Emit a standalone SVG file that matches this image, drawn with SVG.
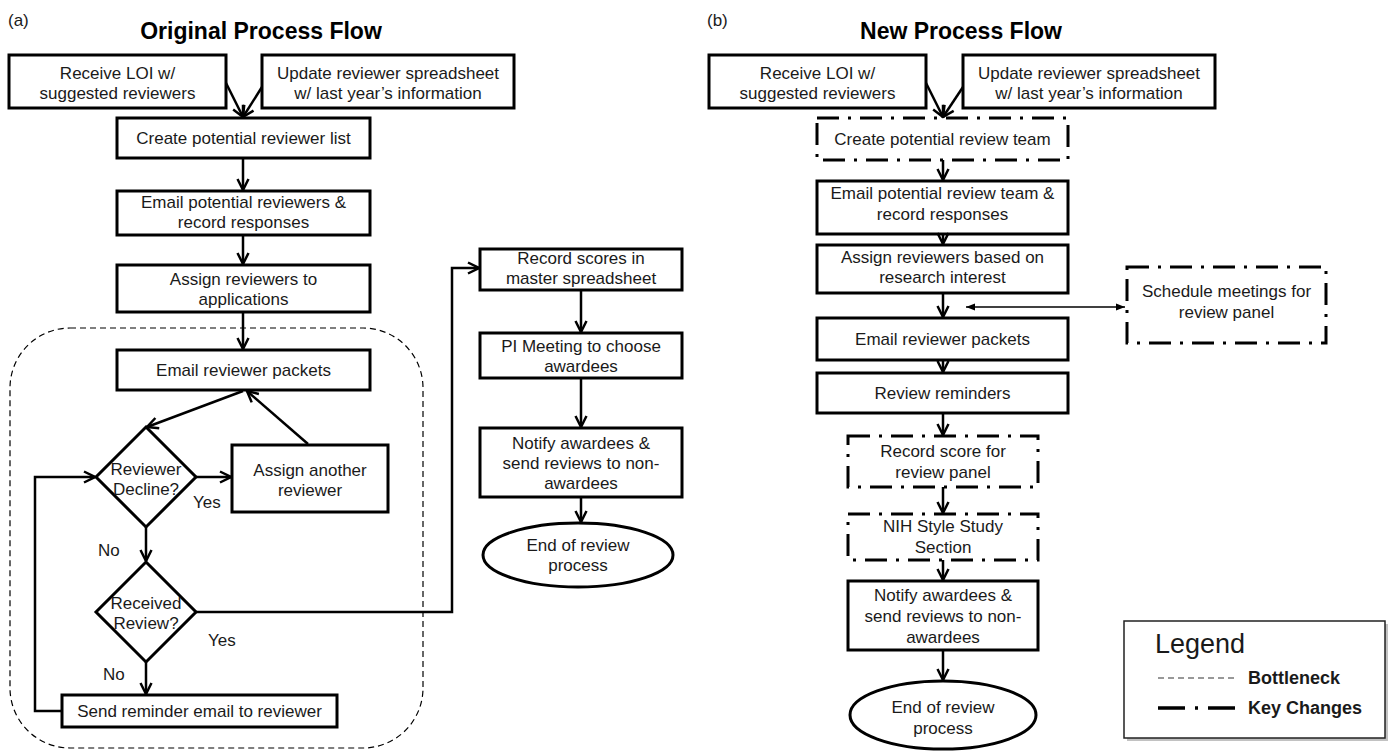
<svg xmlns="http://www.w3.org/2000/svg" width="1394" height="751" viewBox="0 0 1394 751">
<style>
text{font-family:"Liberation Sans",Arial,sans-serif;fill:#1a1a1a;font-size:17px}
.c{text-anchor:middle}
.title{font-size:23px;font-weight:bold;text-anchor:middle;fill:#000}
.box{fill:#fff;stroke:#000;stroke-width:3}
.key{fill:#fff;stroke:#000;stroke-width:3;stroke-dasharray:22 9 3 9}
.ln{fill:none;stroke:#000;stroke-width:2.5}
.arr{fill:none;stroke:#000;stroke-width:2.5;marker-end:url(#ah)}
.bn{fill:none;stroke:#000;stroke-width:1.2;stroke-dasharray:6 4}
</style>
<defs>
<marker id="ah" viewBox="0 0 14 14" refX="12.5" refY="7" markerWidth="14" markerHeight="14" markerUnits="userSpaceOnUse" orient="auto">
<path d="M1.5,1.5 L12.5,7 L1.5,12.5" fill="none" stroke="#000" stroke-width="2.5"/>
</marker>
<marker id="sm" viewBox="0 0 10 10" refX="9" refY="5" markerWidth="10" markerHeight="10" markerUnits="userSpaceOnUse" orient="auto-start-reverse">
<path d="M0,1.5 L9,5 L0,8.5 Z" fill="#000"/>
</marker>
</defs>
<rect width="1394" height="751" fill="#fff"/>

<!-- Panel (a) -->
<text x="8" y="26">(a)</text>
<text class="title" x="261" y="39">Original Process Flow</text>

<g id="bottleneck">
<rect class="bn" x="10" y="328" width="413" height="420" rx="60" ry="60"/>
</g>

<g id="a-receive"><rect class="box" x="9" y="55" width="217" height="53"/>
<text class="c" x="117.5" y="79">Receive LOI w/</text><text class="c" x="117.5" y="99">suggested reviewers</text></g>
<g id="a-update"><rect class="box" x="262" y="55" width="252" height="53"/>
<text class="c" x="388" y="79">Update reviewer spreadsheet</text><text class="c" x="388" y="99">w/ last year’s information</text></g>
<g id="a-create"><rect class="box" x="117" y="118" width="253" height="40"/>
<text class="c" x="243.5" y="144">Create potential reviewer list</text></g>
<g id="a-email"><rect class="box" x="117" y="191" width="253" height="44"/>
<text class="c" x="243.5" y="208">Email potential reviewers &amp;</text><text class="c" x="243.5" y="228">record responses</text></g>
<g id="a-assign"><rect class="box" x="117" y="265" width="253" height="47"/>
<text class="c" x="243.5" y="285">Assign reviewers to</text><text class="c" x="243.5" y="305">applications</text></g>
<g id="a-packets"><rect class="box" x="117" y="350" width="253" height="40"/>
<text class="c" x="243.5" y="376">Email reviewer packets</text></g>
<g id="a-decline"><polygon class="box" points="146,427 196,477 146,527 96,477"/>
<text class="c" x="146" y="475">Reviewer</text><text class="c" x="146" y="495">Decline?</text></g>
<g id="a-another"><rect class="box" x="232" y="445" width="156" height="67"/>
<text class="c" x="310" y="476">Assign another</text><text class="c" x="310" y="496">reviewer</text></g>
<g id="a-received"><polygon class="box" points="146,562 196,612 146,662 96,612"/>
<text class="c" x="146" y="609">Received</text><text class="c" x="146" y="629">Review?</text></g>
<g id="a-reminder"><rect class="box" x="62" y="695" width="275" height="32"/>
<text class="c" x="199.5" y="717">Send reminder email to reviewer</text></g>
<g id="a-record"><rect class="box" x="480" y="249" width="202" height="41"/>
<text class="c" x="581" y="264">Record scores in</text><text class="c" x="581" y="284">master spreadsheet</text></g>
<g id="a-pi"><rect class="box" x="480" y="333" width="202" height="45"/>
<text class="c" x="581" y="352">PI Meeting to choose</text><text class="c" x="581" y="372">awardees</text></g>
<g id="a-notify"><rect class="box" x="480" y="428" width="202" height="69"/>
<text class="c" x="581" y="449">Notify awardees &amp;</text><text class="c" x="581" y="469">send reviews to non-</text><text class="c" x="581" y="489">awardees</text></g>
<g id="a-end"><ellipse class="box" cx="578" cy="555" rx="95" ry="32"/>
<text class="c" x="578" y="551">End of review</text><text class="c" x="578" y="571">process</text></g>

<g id="a-labels">
<text x="193" y="508">Yes</text>
<text x="98" y="556">No</text>
<text x="208" y="646">Yes</text>
<text x="103" y="680">No</text>
</g>

<g id="a-connectors">
<path class="arr" d="M226,83 L243,117"/>
<path class="arr" d="M262,87 L243,117"/>
<path class="arr" d="M243,158 V190"/>
<path class="arr" d="M243,235 V264"/>
<path class="arr" d="M243,312 V349"/>
<path class="arr" d="M243,391 L147,427"/>
<path class="arr" d="M308,444 L247,391"/>
<path class="arr" d="M196,477 H231"/>
<path class="arr" d="M146,527 V561"/>
<path class="arr" d="M146,662 V694"/>
<path class="arr" d="M62,711 H35 V477 H95"/>
<path class="arr" d="M196,612 H452 V268 H479"/>
<path class="arr" d="M581,290 V332"/>
<path class="arr" d="M581,378 V427"/>
<path class="arr" d="M581,497 V522"/>
</g>

<!-- Panel (b) -->
<text x="707" y="26">(b)</text>
<text class="title" x="961" y="39">New Process Flow</text>

<g id="b-receive"><rect class="box" x="709" y="55" width="217" height="53"/>
<text class="c" x="817.5" y="79">Receive LOI w/</text><text class="c" x="817.5" y="99">suggested reviewers</text></g>
<g id="b-update"><rect class="box" x="963" y="55" width="252" height="53"/>
<text class="c" x="1089" y="79">Update reviewer spreadsheet</text><text class="c" x="1089" y="99">w/ last year’s information</text></g>
<g id="b-create"><rect class="key" x="817" y="118" width="251" height="42"/>
<text class="c" x="942.5" y="145">Create potential review team</text></g>
<g id="b-email"><rect class="box" x="817" y="181" width="251" height="53"/>
<text class="c" x="942.5" y="199">Email potential review team &amp;</text><text class="c" x="942.5" y="220">record responses</text></g>
<g id="b-assign"><rect class="box" x="817" y="245" width="251" height="48"/>
<text class="c" x="942.5" y="263">Assign reviewers based on</text><text class="c" x="942.5" y="283">research interest</text></g>
<g id="b-schedule"><rect class="key" x="1127" y="267" width="199" height="76"/>
<text class="c" x="1226.5" y="297">Schedule meetings for</text><text class="c" x="1226.5" y="318">review panel</text></g>
<g id="b-packets"><rect class="box" x="817" y="318" width="251" height="42"/>
<text class="c" x="942.5" y="345">Email reviewer packets</text></g>
<g id="b-reminders"><rect class="box" x="817" y="373" width="251" height="40"/>
<text class="c" x="942.5" y="399">Review reminders</text></g>
<g id="b-recordscore"><rect class="key" x="848" y="436" width="190" height="51"/>
<text class="c" x="943" y="457">Record score for</text><text class="c" x="943" y="478">review panel</text></g>
<g id="b-nih"><rect class="key" x="848" y="514" width="190" height="46"/>
<text class="c" x="943" y="532">NIH Style Study</text><text class="c" x="943" y="553">Section</text></g>
<g id="b-notify"><rect class="box" x="848" y="581" width="190" height="69"/>
<text class="c" x="943" y="601">Notify awardees &amp;</text><text class="c" x="943" y="622">send reviews to non-</text><text class="c" x="943" y="643">awardees</text></g>
<g id="b-end"><ellipse class="box" cx="943" cy="715" rx="93" ry="34"/>
<text class="c" x="943" y="713">End of review</text><text class="c" x="943" y="734">process</text></g>

<g id="b-connectors">
<path class="arr" d="M926,83 L943,117"/>
<path class="arr" d="M963,87 L943,117"/>
<path class="arr" d="M943,160 V180"/>
<path class="arr" d="M943,234 V244"/>
<path class="arr" d="M943,293 V317"/>
<path d="M966,307 H1125" fill="none" stroke="#000" stroke-width="1.6" marker-start="url(#sm)" marker-end="url(#sm)"/>
<path class="arr" d="M943,360 V372"/>
<path class="arr" d="M943,413 V435"/>
<path class="arr" d="M943,487 V513"/>
<path class="arr" d="M943,560 V580"/>
<path class="arr" d="M943,650 V680"/>
</g>

<g id="legend">
<rect x="1127" y="624" width="261" height="117" fill="#9a9a9a" opacity="0.6"/>
<rect x="1124" y="621" width="261" height="117" fill="#fff" stroke="#222" stroke-width="1.5"/>
<text x="1155" y="653" style="font-size:27px">Legend</text>
<line x1="1158" y1="678" x2="1237" y2="678" stroke="#333" stroke-width="1.2" stroke-dasharray="6 4"/>
<text x="1248" y="684" style="font-size:18px;font-weight:bold">Bottleneck</text>
<line x1="1158" y1="708" x2="1237" y2="708" stroke="#000" stroke-width="3.5" stroke-dasharray="27 10 3 10"/>
<text x="1248" y="714" style="font-size:18px;font-weight:bold">Key Changes</text>
</g>
</svg>
